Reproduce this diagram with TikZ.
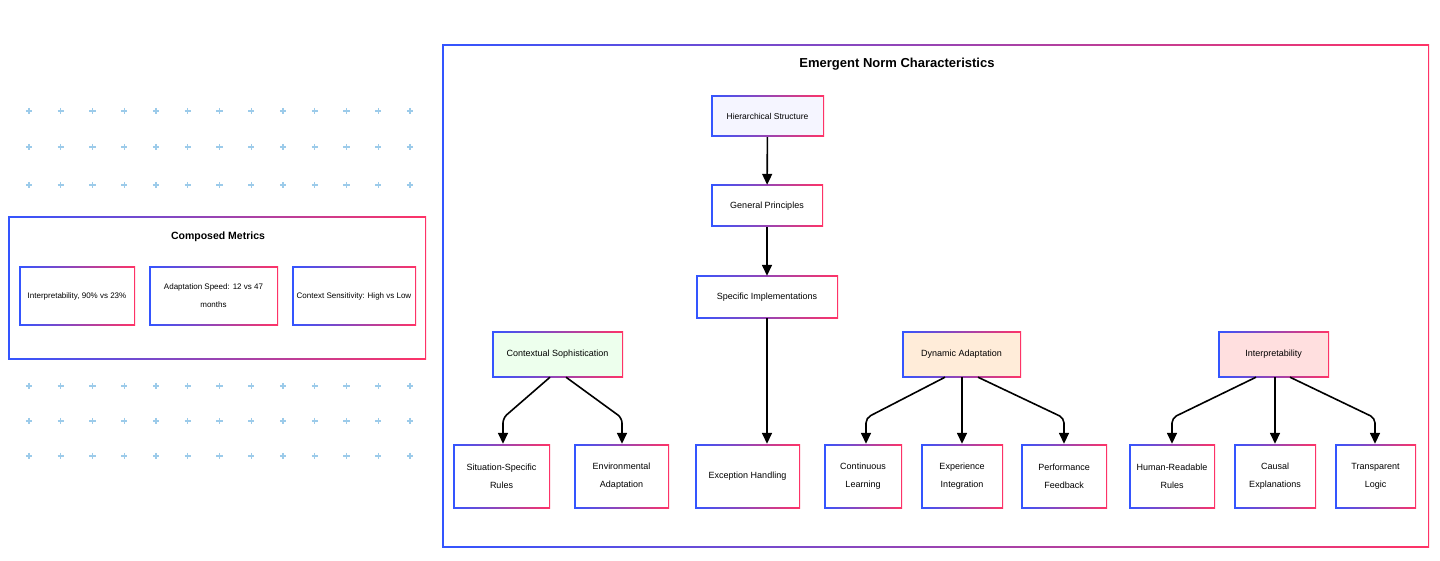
\documentclass[tikz,border=0pt]{standalone}
\usepackage{fontspec}
\setmainfont{Liberation Sans}
\usetikzlibrary{arrows.meta}
\definecolor{gb}{HTML}{3355FF}
\definecolor{gr}{HTML}{FF3366}
\definecolor{plus}{HTML}{9CCBEA}
\begin{document}
\begin{tikzpicture}[x=1pt,y=-1pt,
  gbox/.style={minimum width=#1, inner sep=0pt, align=center, font=\fontsize{9}{18}\selectfont,
    path picture={
      \shade[left color=gb,right color=gr] (path picture bounding box.south west) rectangle (path picture bounding box.north east);
      \fill[\pgfkeysvalueof{/tikz/bgc}] ([shift={(1.5pt,1.5pt)}]path picture bounding box.south west) rectangle ([shift={(-1.5pt,-1.5pt)}]path picture bounding box.north east);}},
  bgc/.initial=white,
  arr/.style={line width=1.6pt,-{Triangle[length=11pt,width=10pt]},rounded corners=5pt},
  pl/.style={plus,line width=1.1pt}]
\useasboundingbox (0,0) rectangle (1440,561);
% plus pattern
\foreach \yy in {111,147,185,386,421,456}{
  \foreach \i in {0,...,12}{
    \pgfmathsetmacro\xx{29+31.75*\i}
    \draw[pl] (\xx-3.2,\yy)--(\xx+3.2,\yy) (\xx,\yy-3.2)--(\xx,\yy+3.2);}}
% composed metrics
\node[gbox=418pt,minimum height=142pt] (cm) at (217,288) {};
\node[font=\bfseries\fontsize{10.5}{12}\selectfont] (cmt) at (218,237) {Composed Metrics};
\node[gbox=116pt,minimum height=58pt,font=\fontsize{8}{18}\selectfont] (m1) at (77,296) {Interpretability, 90\% vs 23\%};
\node[gbox=129pt,minimum height=58pt,font=\fontsize{8}{18}\selectfont] (m2) at (213.5,296) {Adaptation Speed: 12 vs 47\\months};
\node[gbox=124pt,minimum height=58pt,font=\fontsize{8}{18}\selectfont] (m3) at (354,296) {Context Sensitivity: High vs Low};
% main frame
\node[gbox=987pt,minimum height=502pt] (fr) at (935.5,296) {};
\node[font=\bfseries\fontsize{13}{15}\selectfont] (ft) at (897,64) {Emergent Norm Characteristics};
\node[gbox=113pt,minimum height=41pt,bgc=blue!4,font=\fontsize{8.5}{18}\selectfont] (hs) at (767.5,116.5) {Hierarchical Structure};
\node[gbox=112pt,minimum height=42pt] (gp) at (767,206) {General Principles};
\node[gbox=142pt,minimum height=42pt] (si) at (767,297) {Specific Implementations};
\node[gbox=131pt,minimum height=46pt,bgc=green!7] (cs) at (557.5,354) {Contextual Sophistication};
\node[gbox=119pt,minimum height=46pt,bgc=orange!15] (da) at (961.5,354) {Dynamic Adaptation};
\node[gbox=111pt,minimum height=46pt,bgc=pink!50] (ip) at (1273.5,354) {Interpretability};
\foreach \n/\a/\b/\t in {r1/453/550/{Situation-Specific\\Rules},r2/574/669/{Environmental\\Adaptation},r3/695/800/{Exception Handling},r4/824/902/{Continuous\\Learning},r5/921/1003/{Experience\\Integration},r6/1021/1107/{Performance\\Feedback},r7/1129/1215/{Human-Readable\\Rules},r8/1234/1316/{Causal\\Explanations},r9/1335/1416/{Transparent\\Logic}}{
  \pgfmathsetmacro\w{\b-\a}\pgfmathsetmacro\c{(\a+\b)/2}
  \node[gbox=\w pt,minimum height=64pt] (\n) at (\c,476) {\t};}
% arrows
\draw[arr] (hs) -- (gp);
\draw[arr] (gp) -- (si);
\draw[arr] (si) -- (r3.north -| si.south);
\draw[arr] (cs.south -| 550,0) -- (503,418) -- (r1.north -| 503,0);
\draw[arr] (cs.south -| 566,0) -- (622,418) -- (r2.north -| 622,0);
\draw[arr] (da.south -| 945,0) -- (866,418) -- (r4.north -| 866,0);
\draw[arr] (da.south -| 962,0) -- (r5.north -| 962,0);
\draw[arr] (da.south -| 978,0) -- (1064,418) -- (r6.north -| 1064,0);
\draw[arr] (ip.south -| 1256,0) -- (1172,418) -- (r7.north -| 1172,0);
\draw[arr] (ip.south -| 1275,0) -- (r8.north -| 1275,0);
\draw[arr] (ip.south -| 1290,0) -- (1375,418) -- (r9.north -| 1375,0);
\end{tikzpicture}
\end{document}
